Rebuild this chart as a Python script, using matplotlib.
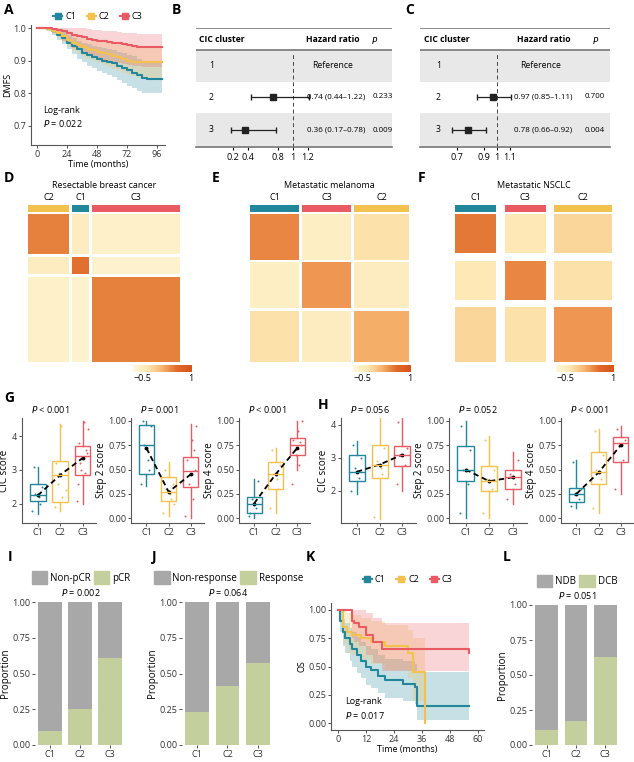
import numpy as np
import matplotlib
matplotlib.use("Agg")
import matplotlib.pyplot as plt
from matplotlib.colors import LinearSegmentedColormap, ListedColormap
from matplotlib.lines import Line2D
from matplotlib.patches import Patch

plt.rcParams["font.family"] = ["Open Sans", "DejaVu Sans"]
plt.rcParams["font.size"] = 6.5
W, H = 634, 762

COL = {"C1": "#22879a", "C2": "#f2c14e", "C3": "#ea5a63"}
GREY, GREEN = "#a8a8a8", "#c3cf9c"
CLUSTERS = ["C1", "C2", "C3"]

# ---- A: DMFS Kaplan-Meier ----
km_a_t = [0, 8, 12, 16, 20, 24, 28, 32, 36, 40, 44, 48, 52, 56, 60, 64, 68, 72, 76, 80, 84, 88, 92, 96, 100]
km_a = {
    "C1": [1, .997, .99, .98, .97, .955, .945, .935, .925, .918, .912, .905, .90, .897, .893, .885, .878, .87, .862, .855, .848, .845, .845, .845, .845],
    "C2": [1, .998, .993, .985, .975, .965, .955, .948, .942, .937, .932, .928, .924, .92, .915, .91, .905, .9, .897, .895, .895, .895, .895, .895, .895],
    "C3": [1, 1, .998, .995, .99, .985, .98, .975, .972, .968, .965, .962, .96, .958, .956, .953, .95, .948, .945, .943, .943, .943, .943, .943, .943],
}
km_a_lo = {
    "C1": [1, .99, .98, .965, .95, .935, .92, .905, .895, .885, .877, .868, .862, .856, .85, .84, .832, .823, .815, .807, .8, .8, .8, .8, .8],
    "C2": [1, .99, .982, .97, .957, .943, .93, .92, .912, .905, .898, .892, .886, .881, .875, .868, .862, .856, .852, .848, .846, .846, .846, .846, .846],
    "C3": [1, .995, .985, .975, .962, .95, .94, .932, .925, .918, .912, .907, .903, .9, .897, .893, .89, .887, .885, .883, .882, .882, .882, .882, .882],
}
km_a_hi = {
    "C1": [1, 1, 1, .995, .99, .978, .97, .962, .955, .95, .946, .942, .938, .936, .933, .928, .923, .918, .913, .906, .9, .895, .895, .895, .895],
    "C2": [1, 1, 1, .998, .992, .985, .978, .975, .97, .968, .965, .962, .96, .958, .955, .952, .948, .945, .943, .94, .94, .94, .94, .94, .94],
    "C3": [1, 1, 1, 1, 1, 1, 1, 1, 1, .998, .996, .994, .993, .992, .99, .988, .986, .985, .984, .983, .983, .983, .983, .983, .983],
}

# ---- B/C: forest plots ----
b_hr, b_lo, b_hi, b_p = [0.74, 0.36], [0.44, 0.17], [1.22, 0.78], ["0.233", "0.009"]
c_hr, c_lo, c_hi, c_p = [0.97, 0.78], [0.85, 0.66], [1.11, 0.92], ["0.700", "0.004"]

# ---- D/E/F: consensus heatmaps (cluster order, sizes, block mean values) ----
d_order, d_sizes = ["C2", "C1", "C3"], [14, 6, 30]
d_block = [[.45, -.5, -.6], [-.5, .55, -.65], [-.6, -.65, .45]]
e_order, e_sizes = ["C1", "C3", "C2"], [18, 18, 20]
e_block = [[.4, -.55, -.3], [-.55, .3, -.5], [-.3, -.5, .15]]
f_order, f_sizes = ["C1", "C3", "C2"], [5, 5, 7]
f_block = [[.5, -.4, -.2], [-.4, .4, -.3], [-.2, -.3, .3]]

# ---- G/H: boxplots (q1, med, q3, whislo, whishi, mean) ----
g_stats = {
    "CIC score": [(2.1, 2.25, 2.6, 1.7, 3.1, 2.25), (2.05, 2.85, 3.25, 1.8, 4.35, 2.85), (2.85, 3.4, 3.7, 2.0, 4.45, 3.35)],
    "Step 2 score": [(.45, .75, .96, .33, 1.0, .72), (.18, .27, .42, .02, .58, .27), (.32, .48, .63, 0.0, .97, .45)],
    "Step 4 score": [(.05, .15, .22, 0.0, .40, .15), (.30, .45, .58, .05, .72, .45), (.65, .75, .82, .50, 1.0, .72)],
}
h_stats = {
    "CIC score": [(2.3, 2.58, 3.1, 1.9, 3.5, 2.58), (2.4, 2.8, 3.4, 1.15, 4.35, 2.8), (2.75, 3.1, 3.35, 2.0, 4.2, 3.1)],
    "Step 2 score": [(.38, .5, .74, 0.0, 1.0, .5), (.28, .38, .54, 0.0, .85, .38), (.3, .42, .5, .15, .68, .42)],
    "Step 4 score": [(.17, .25, .31, .1, .6, .25), (.35, .47, .68, .05, .92, .47), (.58, .77, .83, .25, .95, .75)],
}
g_pts = {
    "CIC score": [[1.8, 2.0, 2.3, 2.5, 3.1, 2.2], [1.9, 2.2, 2.6, 3.0, 3.2, 4.3, 2.4, 2.9], [2.1, 2.9, 3.2, 3.5, 3.8, 4.4, 4.2, 3.0, 3.6, 2.6]],
    "Step 2 score": [[.35, .5, .75, .95, 1.0, .6], [.05, .2, .3, .35, .5, .25, .15], [.02, .2, .35, .5, .6, .8, .95, .45, .7]],
    "Step 4 score": [[.02, .1, .2, .38, .05], [.1, .3, .45, .55, .7, .4], [.35, .55, .7, .75, .8, .9, 1.0, .65, .78]],
}
h_pts = {
    "CIC score": [[2.0, 2.4, 2.7, 3.0, 3.4], [1.2, 2.5, 2.9, 3.3, 4.3, 2.7], [2.2, 2.8, 3.1, 3.3, 4.1]],
    "Step 2 score": [[.05, .35, .5, .7, .95], [.05, .3, .4, .5, .8], [.2, .35, .45, .6]],
    "Step 4 score": [[.12, .2, .25, .3, .58], [.1, .4, .5, .65, .9], [.3, .6, .75, .8, .92]],
}
g_p = ["$P$ < 0.001", "$P$ = 0.001", "$P$ < 0.001"]
h_p = ["$P$ = 0.056", "$P$ = 0.052", "$P$ < 0.001"]
JIT = [-0.25, 0.1, -0.1, 0.2, -0.18, 0.05, 0.25, -0.05, 0.15, -0.22]

# ---- I/J/L: proportions ----
i_resp = [0.10, 0.25, 0.61]
j_resp = [0.23, 0.41, 0.57]
l_resp = [0.11, 0.17, 0.63]

# ---- K: OS Kaplan-Meier ----
km_k = {
    "C1": ([0, 1, 2, 3, 5, 6, 8, 10, 12, 14, 17, 20, 28, 33, 34, 56],
           [1, .9, .8, .75, .7, .65, .6, .55, .5, .47, .42, .38, .35, .32, .15, .15]),
    "C2": ([0, 2, 4, 6, 10, 14, 20, 30, 32, 37, 37.5],
           [1, .85, .8, .78, .75, .72, .68, .62, .45, .45, 0.0]),
    "C3": ([0, 6, 7, 9, 12, 15, 19, 56],
           [1, .9, .88, .85, .78, .72, .65, .62]),
}
km_k_lo = {"C1": [1, .8, .68, .62, .55, .5, .44, .4, .34, .31, .27, .22, .2, .17, .03, .03],
           "C2": [1, .7, .62, .6, .56, .52, .47, .4, .2, .2, 0.0],
           "C3": [1, .75, .72, .68, .6, .53, .46, .45]}
km_k_hi = {"C1": [1, 1, .92, .88, .84, .8, .76, .72, .68, .65, .6, .57, .55, .52, .45, .45],
           "C2": [1, 1, .97, .95, .93, .9, .87, .82, .75, .75, .75],
           "C3": [1, 1, 1, 1, .97, .93, .88, .86]}


def ax_px(x0, y0, x1, y1):
    return fig.add_axes([x0 / W, 1 - y1 / H, (x1 - x0) / W, (y1 - y0) / H])


def plabel(x, y, s):
    fig.text(x / W, 1 - y / H, s, fontsize=10, fontweight="bold", va="center", ha="left")


def style(ax):
    for s in ["top", "right"]:
        ax.spines[s].set_visible(False)
    for s in ["left", "bottom"]:
        ax.spines[s].set_color("#555555")
        ax.spines[s].set_linewidth(0.8)
    ax.tick_params(length=2, width=0.6, pad=1.5, colors="#333333")


def km_legend(ax, y):
    hs = [Line2D([0], [0], color=COL[c], lw=1.5, marker="s", ms=4) for c in CLUSTERS]
    ax.legend(hs, CLUSTERS, loc="lower center", bbox_to_anchor=(0.5, y), ncol=3, frameon=False,
              handlelength=1.0, columnspacing=1.2, handletextpad=0.3, borderaxespad=0)


fig = plt.figure(figsize=(W / 100, H / 100), dpi=100)

# ===== A =====
plabel(4, 10, "A")
ax = ax_px(31, 25, 165, 145)
for c in CLUSTERS:
    ax.fill_between(km_a_t, km_a_lo[c], km_a_hi[c], step="post", color=COL[c], alpha=0.25, lw=0)
    ax.step(km_a_t, km_a[c], where="post", color=COL[c], lw=1.5)
ax.set_xlim(-4.8, 102.4)
ax.set_ylim(0.64, 1.01)
ax.set_xticks([0, 24, 48, 72, 96])
ax.set_yticks([0.7, 0.8, 0.9, 1.0])
ax.set_xlabel("Time (months)", labelpad=1)
ax.set_ylabel("DMFS", labelpad=1)
ax.text(5, 0.745, "Log-rank", va="center")
ax.text(5, 0.707, "$P$ = 0.022", va="center")
style(ax)
km_legend(ax, 1.0)


# ===== B / C =====
def forest(x0, x1, xlim, hr, lo, hi, ptxt, ticks, tlabels, pos):
    ax = ax_px(x0, 28, x1, 147)
    ax.set_xlim(*xlim)
    ax.set_ylim(147, 28)
    ax.axhspan(50, 82, color="#e8e8e8", lw=0)
    ax.axhspan(113, 147, color="#e8e8e8", lw=0)
    ax.axhline(28, color="#777777", lw=1.2)
    ax.axhline(50, color="#777777", lw=1.2)
    ax.axvline(1, ymin=0, ymax=(147 - 52) / 119, color="#444444", ls=(0, (4, 3)), lw=0.7)
    ax.text(pos["lab"], 40, "CIC cluster", fontweight="bold", va="center", fontsize=6.2)
    ax.text(pos["hrh"], 40, "Hazard ratio", fontweight="bold", va="center", fontsize=6.2)
    ax.text(pos["ph"], 40, "$P$", va="center", fontsize=6.2)
    rows = [66, 97, 130]
    ax.text(pos["lab"] + pos["indent"], rows[0], "1", va="center", fontsize=6.2)
    ax.text(pos["ref"], rows[0], "Reference", va="center", fontsize=6.2)
    for k in range(2):
        y = rows[k + 1]
        ax.text(pos["lab"] + pos["indent"], y, str(k + 2), va="center", fontsize=6.2)
        ax.errorbar(hr[k], y, xerr=[[hr[k] - lo[k]], [hi[k] - hr[k]]], fmt="s", color="#222222",
                    ms=5, capsize=2.5, lw=0.9)
        ax.text(pos["hr"], y, f"{hr[k]:.2f} ({lo[k]:.2f}–{hi[k]:.2f})", va="center", fontsize=5.8)
        ax.text(pos["p"], y, ptxt[k], va="center", fontsize=5.8)
    ax.set_xticks(ticks)
    ax.set_xticklabels(tlabels)
    ax.set_yticks([])
    for s in ["top", "right", "left"]:
        ax.spines[s].set_visible(False)
    ax.spines["bottom"].set_color("#777777")
    ax.spines["bottom"].set_linewidth(1.2)
    ax.tick_params(axis="x", length=2, pad=2)


plabel(172, 10, "B")
forest(196, 392, (-0.293, 2.32), b_hr, b_lo, b_hi, b_p, [0.2, 0.4, 0.8, 1, 1.2],
       ["0.2", "0.4", "0.8", "1", "1.2"],
       dict(lab=-0.25, indent=0.13, hrh=1.17, ph=2.04, ref=1.26, hr=1.19, p=2.06))
plabel(405, 10, "C")
forest(420, 610, (0.42, 1.855), c_hr, c_lo, c_hi, c_p, [0.7, 0.9, 1, 1.1],
       ["0.7", "0.9", "1", "1.1"],
       dict(lab=0.45, indent=0.09, hrh=1.15, ph=1.72, ref=1.175, hr=1.13, p=1.66))

# ===== D / E / F =====
cmap = LinearSegmentedColormap.from_list("cc", ["#fff8dc", "#fde6b0", "#f7b36c", "#e06a2a", "#d9521c"])
cmap.set_bad("white")


def heat(label, lx, title, order, sizes, block, x0, x1, cb0, cb1):
    plabel(lx, 178, label)
    idx = []
    for b, n in enumerate(sizes):
        idx += [b] * n
        if b < len(sizes) - 1:
            idx.append(-1)
    idx = np.array(idx)
    n = len(idx)
    M = np.full((n, n), np.nan)
    for i in range(n):
        for j in range(n):
            if idx[i] >= 0 and idx[j] >= 0:
                M[i, j] = block[idx[i]][idx[j]]
    ax = ax_px(x0, 214, x1, 362)
    ax.imshow(M, cmap=cmap, vmin=-0.8, vmax=1.05, aspect="auto", interpolation="nearest")
    ax.axis("off")
    bar = ax_px(x0, 205, x1, 212)
    codes = np.array([[CLUSTERS.index(order[k]) if k >= 0 else np.nan for k in idx]], dtype=float)
    bcm = ListedColormap([COL[c] for c in CLUSTERS])
    bcm.set_bad("white")
    bar.imshow(np.ma.masked_invalid(codes), cmap=bcm, vmin=-0.5, vmax=2.5, aspect="auto", interpolation="nearest")
    bar.axis("off")
    start = 0
    for b, nb in enumerate(sizes):
        bar.text(start + nb / 2 - 0.5, -0.9, order[b], ha="center", va="bottom", fontsize=6.5)
        start += nb + 1
    fig.text((x0 + x1) / 2 / W, 1 - 185 / H, title, ha="center", va="center", fontsize=6.5)
    cax = ax_px(cb0, 365, cb1, 372)
    cb = fig.colorbar(plt.cm.ScalarMappable(cmap=cmap, norm=plt.Normalize(-0.8, 1.05)), cax=cax,
                      orientation="horizontal", ticks=[-0.5, 1])
    cb.outline.set_visible(False)
    cb.ax.set_xticklabels(["−0.5", "1"])
    cb.ax.tick_params(length=0, pad=1.5)


heat("D", 4, "Resectable breast cancer", d_order, d_sizes, d_block, 28, 180, 133, 192)
heat("E", 212, "Metastatic melanoma", e_order, e_sizes, e_block, 250, 409, 353, 411)
heat("F", 418, "Metastatic NSCLC", f_order, f_sizes, f_block, 455, 612, 556, 614)


# ===== G / H =====
def boxpanel(x0, x1, ylab, stats, pts, ptxt, ylim, yticks, ylabels):
    ax = ax_px(x0, 418, x1, 523)
    bx = []
    for k, (q1, med, q3, wl, wh, mn) in enumerate(stats):
        bx.append(dict(q1=q1, med=med, q3=q3, whislo=wl, whishi=wh, fliers=[]))
    parts = ax.bxp(bx, positions=[1, 2, 3], widths=0.7, showfliers=False, showcaps=False, patch_artist=True)
    for k, c in enumerate(CLUSTERS):
        parts["boxes"][k].set(facecolor="none", edgecolor=COL[c], lw=1.0)
        parts["medians"][k].set(color=COL[c], lw=1.0)
        for w in parts["whiskers"][2 * k:2 * k + 2]:
            w.set(color=COL[c], lw=1.0)
        ys = pts[k]
        ax.scatter([k + 1 + JIT[i % len(JIT)] for i in range(len(ys))], ys, s=2, color=COL[c], lw=0)
    ax.plot([1, 2, 3], [s[5] for s in stats], color="black", ls=(0, (3, 2)), lw=1.3, marker="o", ms=1.8)
    ax.set_xlim(0.3, 3.6)
    ax.set_ylim(*ylim)
    ax.set_yticks(yticks)
    ax.set_yticklabels(ylabels)
    ax.set_xticks([1, 2, 3])
    ax.set_xticklabels(CLUSTERS)
    ax.set_ylabel(ylab, fontsize=7, labelpad=1)
    ax.text(0.12, 1.03, ptxt, transform=ax.transAxes, va="bottom", fontsize=6.5)
    style(ax)


step_ticks = [0, .25, .5, .75, 1.0]
step_lab = ["0.00", "0.25", "0.50", "0.75", "1.00"]
plabel(4, 398, "G")
names = ["CIC score", "Step 2 score", "Step 4 score"]
g_x = [(22, 96), (131, 204), (239, 310)]
h_x = [(341, 416), (449, 527), (561, 634)]
for k, nm in enumerate(names):
    if k == 0:
        yl, yt, ylb = (1.44, 4.53), [2, 3, 4], ["2", "3", "4"]
    else:
        yl, yt, ylb = (-0.05, 1.03), step_ticks, step_lab
    boxpanel(*g_x[k], nm, g_stats[nm], g_pts[nm], g_p[k], yl, yt, ylb)
plabel(318, 405, "H")
for k, nm in enumerate(names):
    if k == 0:
        yl, yt, ylb = (1.03, 4.21), [2, 3, 4], ["2", "3", "4"]
    else:
        yl, yt, ylb = (-0.05, 1.03), step_ticks, step_lab
    boxpanel(*h_x[k], nm, h_stats[nm], h_pts[nm], h_p[k], yl, yt, ylb)


# ===== I / J / L =====
def propbar(label, lx, x0, x1, ytop, resp, names2, ptxt):
    plabel(lx, 557, label)
    ax = ax_px(x0, ytop, x1, 745)
    pos = [1, 2, 3]
    ax.bar(pos, resp, width=0.78, color=GREEN)
    ax.bar(pos, [1 - r for r in resp], bottom=resp, width=0.78, color=GREY)
    ax.set_xlim(0.5, 3.57)
    ax.set_ylim(0, 1)
    ax.set_yticks(step_ticks)
    ax.set_yticklabels(step_lab)
    ax.set_xticks(pos)
    ax.set_xticklabels(CLUSTERS)
    ax.set_ylabel("Proportion", fontsize=7, labelpad=1)
    for s in ax.spines.values():
        s.set_visible(False)
    ax.tick_params(length=2, width=0.6, pad=1.5, colors="#333333")
    ax.text(0.5, 1.03, ptxt, transform=ax.transAxes, ha="center", va="bottom")
    hs = [Patch(color=GREY), Patch(color=GREEN)]
    ax.legend(hs, names2, loc="lower center", bbox_to_anchor=(0.5, 1.1), ncol=2, frameon=False,
              handlelength=1.6, handleheight=1.6, handletextpad=0.3, columnspacing=0.3, borderaxespad=0,
              fontsize=7)


propbar("I", 8, 35, 127, 602, i_resp, ["Non-pCR", "pCR"], "$P$ = 0.002")
propbar("J", 152, 182, 275, 602, j_resp, ["Non-response", "Response"], "$P$ = 0.064")
propbar("L", 503, 532, 622, 605, l_resp, ["NDB", "DCB"], "$P$ = 0.051")

# ===== K =====
plabel(306, 557, "K")
ax = ax_px(331, 603, 484, 730)
for c in CLUSTERS:
    t, s = km_k[c]
    ax.fill_between(t, km_k_lo[c], km_k_hi[c], step="post", color=COL[c], alpha=0.25, lw=0)
    ax.step(t, s, where="post", color=COL[c], lw=1.5)
ax.set_xlim(-3, 62.6)
ax.set_ylim(-0.06, 1.06)
ax.set_xticks([0, 12, 24, 36, 48, 60])
ax.set_yticks(step_ticks)
ax.set_yticklabels(step_lab)
ax.set_xlabel("Time (months)", labelpad=1)
ax.set_ylabel("OS", labelpad=1)
ax.text(3, 0.19, "Log-rank", va="center")
ax.text(3, 0.07, "$P$ = 0.017", va="center")
style(ax)
km_legend(ax, 1.12)

fig.savefig("out.png", dpi=100)
